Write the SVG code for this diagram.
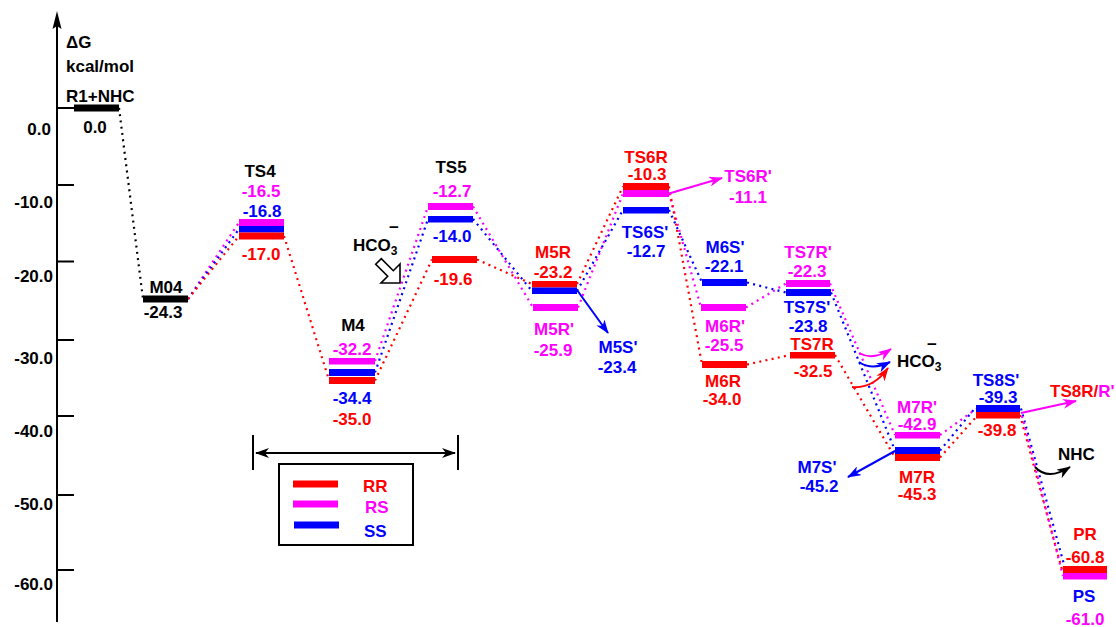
<svg xmlns="http://www.w3.org/2000/svg" width="1116" height="627" viewBox="0 0 1116 627">
<style>
text{font-family:"Liberation Sans",Arial,sans-serif;font-weight:bold;font-size:17px}
.c{text-anchor:middle}
.e{text-anchor:end}
.r{fill:#FF0000}.m{fill:#FF00FF}.b{fill:#0000FF}.k{fill:#000}
.d{fill:none;stroke-width:2.2;stroke-dasharray:2 4.3}
.dr{stroke:#FF0000}.dm{stroke:#FF00FF}.db{stroke:#0000FF}.dk{stroke:#000}
.a{fill:none;stroke-width:2}
</style>
<defs>
<marker id="ak" viewBox="0 0 14 10" refX="13" refY="5" markerWidth="14" markerHeight="10" markerUnits="userSpaceOnUse" orient="auto-start-reverse"><path d="M0,0 L14,5 L0,10 L4,5 z" fill="#000"/></marker>
<marker id="ab" viewBox="0 0 14 10" refX="13" refY="5" markerWidth="14" markerHeight="10" markerUnits="userSpaceOnUse" orient="auto"><path d="M0,0 L14,5 L0,10 L4,5 z" fill="#0000FF"/></marker>
<marker id="am" viewBox="0 0 14 10" refX="13" refY="5" markerWidth="14" markerHeight="10" markerUnits="userSpaceOnUse" orient="auto"><path d="M0,0 L14,5 L0,10 L4,5 z" fill="#FF00FF"/></marker>
<marker id="ar" viewBox="0 0 14 10" refX="13" refY="5" markerWidth="14" markerHeight="10" markerUnits="userSpaceOnUse" orient="auto"><path d="M0,0 L14,5 L0,10 L4,5 z" fill="#FF0000"/></marker>
</defs>
<rect width="1116" height="627" fill="#fff"/>

<g id="axis">
<line x1="57" y1="24" x2="57" y2="622" stroke="#000" stroke-width="2"/>
<path d="M57,11 L61.5,29 L57,26 L52.5,29 z" fill="#000"/>
<g stroke="#000" stroke-width="2">
<line x1="57" y1="108" x2="74" y2="108"/>
<line x1="57" y1="185" x2="74" y2="185"/>
<line x1="57" y1="261.5" x2="74" y2="261.5"/>
<line x1="57" y1="340" x2="74" y2="340"/>
<line x1="57" y1="416" x2="74" y2="416"/>
<line x1="57" y1="495" x2="74" y2="495"/>
<line x1="57" y1="570" x2="74" y2="570"/>
</g>
<text class="e" x="51" y="135">0.0</text>
<text class="e" x="53" y="208">-10.0</text>
<text class="e" x="53" y="282">-20.0</text>
<text class="e" x="53" y="364">-30.0</text>
<text class="e" x="53" y="437">-40.0</text>
<text class="e" x="53" y="510">-50.0</text>
<text class="e" x="53" y="590">-60.0</text>
<text x="66" y="48">ΔG</text>
<text x="66" y="72">kcal/mol</text>
</g>

<g id="connectors">
<path class="d dk" d="M119,108 L143,299"/>
<path class="d dm" d="M188,299 L239,222.5"/>
<path class="d db" d="M188,299 L239,229"/>
<path class="d dr" d="M188,299 L239,236"/>
<path class="d dr" d="M284,236 L329,380"/>
<path class="d dm" d="M375,361 L428,206.5"/>
<path class="d db" d="M375,372.5 L428,219"/>
<path class="d dr" d="M375,380.5 L432,259.5"/>
<path class="d dm" d="M473,206.5 L533,307.5"/>
<path class="d db" d="M473,219 L532,291"/>
<path class="d dr" d="M477,259.5 L532,284"/>
<path class="d dr" d="M577,284 L623,186.5"/>
<path class="d db" d="M577,291 L623,210"/>
<path class="d dm" d="M578,307.5 L623,193.5"/>
<path class="d db" d="M669,210 L702,282.5"/>
<path class="d dm" d="M669,193.5 L701,307.5"/>
<path class="d dr" d="M669,186.5 L702,364.5"/>
<path class="d db" d="M747,282.5 L786,292.5"/>
<path class="d dm" d="M746,307.5 L786,283.5"/>
<path class="d dr" d="M747,364.5 L790,355"/>
<path class="d dm" d="M830,283.5 L895,435"/>
<path class="d db" d="M831,292.5 L895,450.5"/>
<path class="d dr" d="M835,355 L895,457.5"/>
<path class="d dm" d="M940,435 L976,409"/>
<path class="d db" d="M940,450.5 L976,407"/>
<path class="d dr" d="M940,457.5 L977,416"/>
<path class="d db" d="M1021,408.5 L1065,568"/>
<path class="d dr" d="M1020,415 L1062,569.5"/>
<path class="d dm" d="M1022,416 L1063,576"/>
<line class="a" stroke="#0000FF" x1="577" y1="290" x2="608" y2="333" marker-end="url(#ab)"/>
<line class="a" stroke="#FF00FF" x1="669" y1="193.5" x2="722" y2="178" marker-end="url(#am)"/>
<line class="a" stroke="#0000FF" x1="895" y1="451" x2="848" y2="477" marker-end="url(#ab)"/>
<line class="a" stroke="#FF00FF" x1="1021" y1="413" x2="1076" y2="401" marker-end="url(#am)"/>
<path class="a" stroke="#FF00FF" d="M859,353 Q873,361 891,349" marker-end="url(#am)"/>
<path class="a" stroke="#0000FF" d="M859,362 Q872,371 890,362" marker-end="url(#ab)"/>
<path class="a" stroke="#FF0000" d="M852,387 Q873,389 888,368" marker-end="url(#ar)"/>
<path class="a" stroke="#000" d="M1035,467 Q1048,481 1070,467" marker-end="url(#ak)"/>
</g>

<g id="span">
<line x1="253" y1="435" x2="253" y2="470" stroke="#000" stroke-width="2"/>
<line x1="458" y1="435" x2="458" y2="470" stroke="#000" stroke-width="2"/>
<line x1="256" y1="453" x2="455" y2="453" stroke="#000" stroke-width="2" marker-start="url(#ak)" marker-end="url(#ak)"/>
</g>

<g id="R1NHC">
<rect x="74" y="104.5" width="45" height="7" fill="#000"/>
<text x="66" y="102">R1+NHC</text>
<text class="c" x="95" y="133">0.0</text>
</g>

<g id="M04">
<rect x="143" y="295.5" width="45" height="7" fill="#000"/>
<text class="c" x="166" y="293">M04</text>
<text class="c" x="163" y="318">-24.3</text>
</g>

<g id="TS4">
<rect x="239" y="219" width="45" height="7" fill="#FF00FF"/>
<rect x="239" y="226" width="45" height="6.5" fill="#0000FF"/>
<rect x="239" y="232.5" width="45" height="7" fill="#FF0000"/>
<text class="c" x="260" y="177">TS4</text>
<text class="c m" x="261" y="197">-16.5</text>
<text class="c b" x="262" y="217">-16.8</text>
<text class="c r" x="261" y="260">-17.0</text>
</g>

<g id="M4">
<rect x="329" y="358" width="46" height="6.5" fill="#FF00FF"/>
<rect x="329" y="369" width="46" height="7" fill="#0000FF"/>
<rect x="329" y="377" width="46" height="7" fill="#FF0000"/>
<text class="c" x="353" y="331">M4</text>
<text class="c m" x="352" y="355">-32.2</text>
<text class="c b" x="352" y="404">-34.4</text>
<text class="c r" x="352" y="425">-35.0</text>
</g>

<g id="HCO3a">
<text x="353" y="251">HCO<tspan font-size="12" dy="4">3</tspan></text>
<text class="c" x="394" y="233" font-size="13">−</text>
<path d="M400,264 L393.3,270.7 L381.3,258.7 L375.7,264.3 L387.7,276.3 L381,283 L400,283 z" fill="#fff" stroke="#000" stroke-width="1.6" stroke-linejoin="miter"/>
</g>

<g id="TS5">
<rect x="428" y="203" width="45" height="7" fill="#FF00FF"/>
<rect x="428" y="216" width="45" height="6.5" fill="#0000FF"/>
<rect x="432" y="256" width="45" height="7" fill="#FF0000"/>
<text class="c" x="451" y="173">TS5</text>
<text class="c m" x="452" y="197">-12.7</text>
<text class="c b" x="452" y="242">-14.0</text>
<text class="c r" x="453" y="285">-19.6</text>
</g>

<g id="M5">
<rect x="532" y="281" width="45" height="6.5" fill="#FF0000"/>
<rect x="532" y="287.5" width="45" height="6.5" fill="#0000FF"/>
<rect x="533" y="304" width="45" height="7" fill="#FF00FF"/>
<text class="c r" x="553" y="258">M5R</text>
<text class="c r" x="553" y="278">-23.2</text>
<text class="c m" x="554" y="335">M5R'</text>
<text class="c m" x="553" y="356">-25.9</text>
<text class="c b" x="618" y="353">M5S'</text>
<text class="c b" x="617" y="373">-23.4</text>
</g>

<g id="TS6">
<rect x="623" y="183" width="46" height="7" fill="#FF0000"/>
<rect x="623" y="190" width="46" height="7" fill="#FF00FF"/>
<rect x="623" y="207" width="46" height="6.5" fill="#0000FF"/>
<text class="c r" x="646" y="163">TS6R</text>
<text class="c r" x="647" y="180">-10.3</text>
<text class="c m" x="748" y="182">TS6R'</text>
<text class="c m" x="748" y="203">-11.1</text>
<text class="c b" x="645" y="238">TS6S'</text>
<text class="c b" x="646" y="257">-12.7</text>
</g>

<g id="M6">
<rect x="702" y="279" width="45" height="7" fill="#0000FF"/>
<rect x="701" y="304" width="45" height="7" fill="#FF00FF"/>
<rect x="702" y="361" width="45" height="7" fill="#FF0000"/>
<text class="c b" x="725" y="253">M6S'</text>
<text class="c b" x="724" y="272">-22.1</text>
<text class="c m" x="725" y="332">M6R'</text>
<text class="c m" x="724" y="351">-25.5</text>
<text class="c r" x="723" y="387">M6R</text>
<text class="c r" x="722" y="405">-34.0</text>
</g>

<g id="TS7">
<rect x="786" y="280" width="44" height="7" fill="#FF00FF"/>
<rect x="786" y="289" width="45" height="7" fill="#0000FF"/>
<rect x="790" y="352" width="45" height="6.5" fill="#FF0000"/>
<text class="c m" x="808" y="258">TS7R'</text>
<text class="c m" x="807" y="277">-22.3</text>
<text class="c b" x="807" y="313">TS7S'</text>
<text class="c b" x="808" y="332">-23.8</text>
<text class="c r" x="812" y="350">TS7R</text>
<text class="c r" x="813" y="377">-32.5</text>
</g>

<g id="HCO3b">
<text x="897" y="367">HCO<tspan font-size="12" dy="4">3</tspan></text>
<text class="c" x="932" y="350" font-size="13">−</text>
</g>

<g id="M7">
<rect x="895" y="432" width="45" height="6.5" fill="#FF00FF"/>
<rect x="895" y="447" width="45" height="7" fill="#0000FF"/>
<rect x="895" y="454" width="45" height="7" fill="#FF0000"/>
<text class="c m" x="917" y="413">M7R'</text>
<text class="c m" x="917" y="430">-42.9</text>
<text class="c r" x="917" y="483">M7R</text>
<text class="c r" x="917" y="500">-45.3</text>
<text class="c b" x="817" y="473">M7S'</text>
<text class="c b" x="819" y="492">-45.2</text>
</g>

<g id="TS8">
<rect x="976" y="405" width="44" height="7" fill="#0000FF"/>
<rect x="976" y="412" width="44" height="6.5" fill="#FF0000"/>
<text class="c b" x="996" y="386">TS8S'</text>
<text class="c b" x="998" y="403">-39.3</text>
<text class="c r" x="997" y="436">-39.8</text>
<text x="1050" y="397"><tspan class="r">TS8R/</tspan><tspan class="m">R'</tspan></text>
</g>

<g id="NHC">
<text x="1058" y="460">NHC</text>
</g>

<g id="P">
<rect x="1063" y="566" width="44" height="7" fill="#FF0000"/>
<rect x="1063" y="573" width="44" height="6.5" fill="#FF00FF"/>
<text class="c r" x="1085" y="540">PR</text>
<text class="c r" x="1085" y="563">-60.8</text>
<text class="c b" x="1084" y="602">PS</text>
<text class="c m" x="1085" y="625">-61.0</text>
</g>

<g id="legend">
<rect x="279" y="464" width="134" height="81" fill="none" stroke="#000" stroke-width="2"/>
<rect x="293" y="480.5" width="45" height="7" fill="#FF0000"/>
<rect x="293" y="500.5" width="45" height="7" fill="#FF00FF"/>
<rect x="294" y="521.5" width="45" height="7" fill="#0000FF"/>
<text class="r" x="363" y="492">RR</text>
<text class="m" x="365" y="513">RS</text>
<text class="b" x="364" y="537">SS</text>
</g>
</svg>
